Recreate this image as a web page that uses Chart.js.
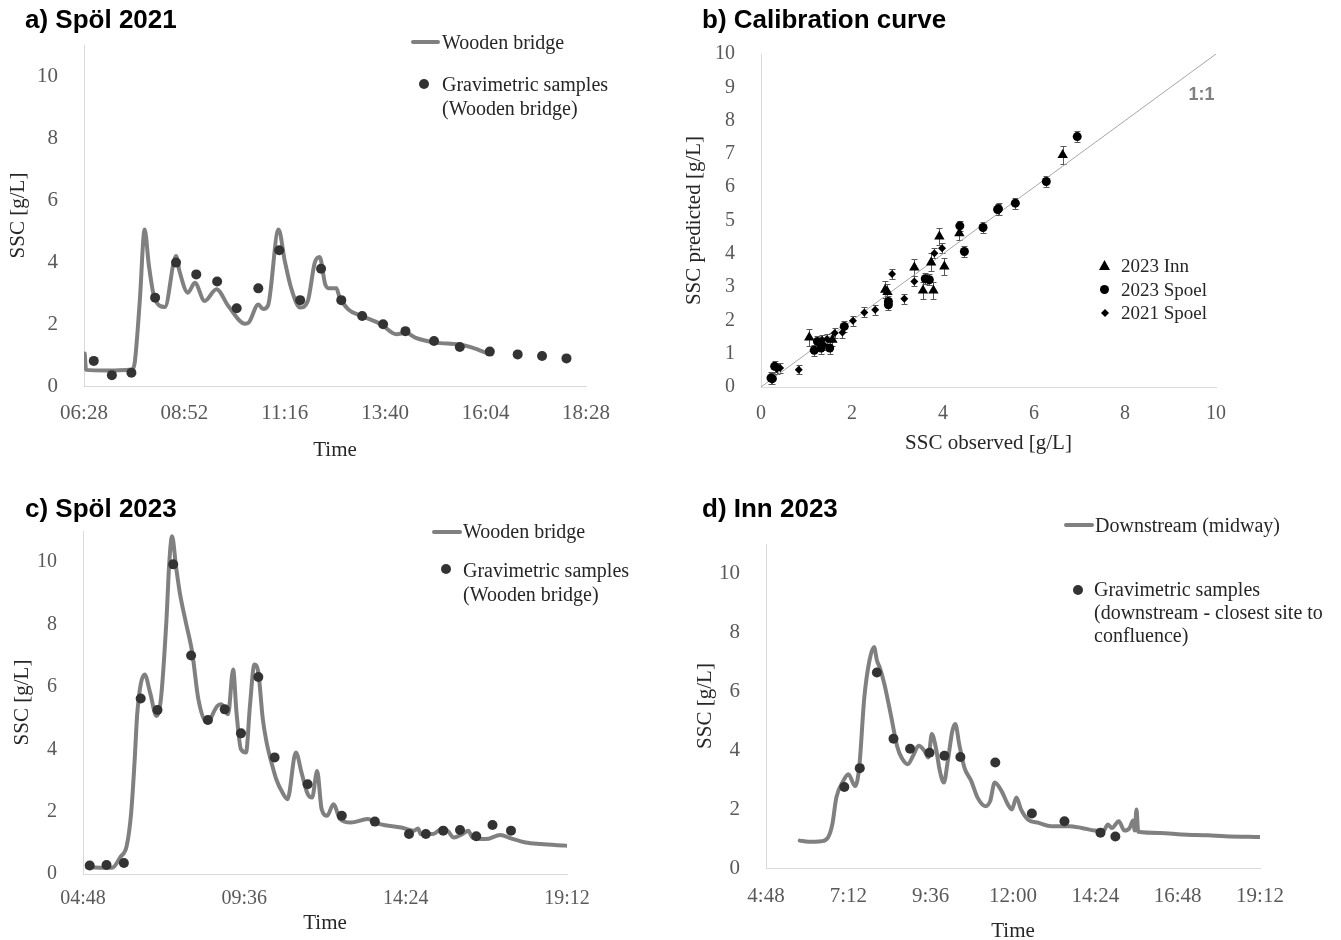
<!DOCTYPE html>
<html>
<head>
<meta charset="utf-8">
<script src="https://cdn.jsdelivr.net/npm/chart.js@4.4.1/dist/chart.umd.min.js"></script>
<style>
  body { margin: 0; background: #fff; width: 1341px; height: 940px; position: relative; overflow: hidden; font-family: 'Liberation Serif', 'Times New Roman', serif; }
  .box { position: absolute; }
  .ttl { position: absolute; font: bold 26px/26px 'Liberation Sans', Arial, sans-serif; color: #000; white-space: nowrap; }
  .lg { position: absolute; font-size: 20px; line-height: 24px; color: #262626; white-space: nowrap; }
  .ln { position: absolute; height: 4px; background: #808080; border-radius: 2px; }
  .dot { position: absolute; width: 10px; height: 10px; border-radius: 50%; background: #333; }
  .mk { position: absolute; background: #000; }
</style>
</head>
<body>

<canvas id="chA" class="box" style="left:0;top:0" width="660" height="480"></canvas>
<canvas id="chB" class="box" style="left:660px;top:0" width="681" height="480"></canvas>
<canvas id="chC" class="box" style="left:0;top:500px" width="660" height="440"></canvas>
<canvas id="chD" class="box" style="left:660px;top:500px" width="681" height="450"></canvas>

<div class="ttl" style="left:25px;top:6px">a) Spöl 2021</div>
<div class="ttl" style="left:702px;top:6px">b) Calibration curve</div>
<div class="ttl" style="left:25px;top:495px">c) Spöl 2023</div>
<div class="ttl" style="left:702px;top:495px">d) Inn 2023</div>

<!-- legend a -->
<div class="ln" style="left:411px;top:40px;width:29px"></div>
<div class="lg" style="left:442px;top:30px">Wooden bridge</div>
<div class="dot" style="left:419px;top:79px"></div>
<div class="lg" style="left:442px;top:72px">Gravimetric samples<br>(Wooden bridge)</div>

<!-- legend b -->
<div class="mk" style="left:1099px;top:260px;width:11px;height:10px;clip-path:polygon(50% 0,100% 100%,0 100%)"></div>
<div class="lg" style="left:1121px;top:254px;font-size:19px">2023 Inn</div>
<div class="mk" style="left:1100px;top:285px;width:9px;height:9px;border-radius:50%"></div>
<div class="lg" style="left:1121px;top:278px;font-size:19px">2023 Spoel</div>
<div class="mk" style="left:1101px;top:309px;width:8px;height:8px;clip-path:polygon(50% 0,100% 50%,50% 100%,0 50%)"></div>
<div class="lg" style="left:1121px;top:301px;font-size:19px">2021 Spoel</div>

<!-- legend c -->
<div class="ln" style="left:432px;top:530px;width:30px"></div>
<div class="lg" style="left:463px;top:519px">Wooden bridge</div>
<div class="dot" style="left:441px;top:564px"></div>
<div class="lg" style="left:463px;top:558px">Gravimetric samples<br>(Wooden bridge)</div>

<!-- legend d -->
<div class="ln" style="left:1064px;top:523px;width:30px"></div>
<div class="lg" style="left:1095px;top:513px">Downstream (midway)</div>
<div class="dot" style="left:1073px;top:585px"></div>
<div class="lg" style="left:1094px;top:578px;line-height:23px">Gravimetric samples<br>(downstream - closest site to<br>confluence)</div>

<script>
// a) Spöl 2021
const aTicksX = ['06:28', '08:52', '11:16', '13:40', '16:04', '18:28'];
const aLineT = ['06:29','06:31','07:00','07:30','07:38','07:41','07:48','07:55','08:01','08:09','08:24','08:40','08:45','08:57','09:07','09:21','09:38','09:55','10:19','10:24','10:38','10:45','10:52','11:07','11:16','11:25','11:38','11:49','11:59','12:06','12:14','12:20','12:30','12:34','12:47','13:06','13:34','13:56','14:10','14:23','14:52','15:25','15:45','16:08'];
const aLineV = [1.05,0.52,0.5,0.52,0.55,0.8,2.74,5.05,3.9,2.85,2.55,4.19,3.7,3.01,3.33,2.74,3.12,2.58,2.01,2.04,2.63,2.48,2.6,5.05,4.03,3.17,2.53,2.74,3.98,4.16,3.28,3.15,3.15,2.9,2.47,2.26,1.99,1.67,1.72,1.56,1.40,1.34,1.24,1.04];
const aSampT = ['06:42','07:08','07:36','08:10','08:40','09:09','09:39','10:07','10:38','11:08','11:38','12:08','12:37','13:07','13:37','14:09','14:50','15:27','16:10','16:50','17:25','18:00'];
const aSampV = [0.81,0.35,0.43,2.85,3.98,3.6,3.37,2.51,3.15,4.38,2.77,3.78,2.77,2.26,1.99,1.77,1.45,1.26,1.11,1.02,0.97,0.89];

// c) Spöl 2023
const cTicksX = ['04:48', '09:36', '14:24', '19:12'];
const cLineT = ['04:55','05:40','05:55','06:06','06:14','06:20','06:25','06:38','06:48','06:59','07:07','07:17','07:22','07:27','07:34','07:41','07:52','08:03','08:14','08:29','08:48','08:55','09:07','09:16','09:22','09:30','09:39','09:46','09:54','10:01','10:09','10:16','10:26','10:33','10:44','10:53','11:08','11:18','11:29','11:37','11:46','11:54','12:04','12:15','12:27','12:46','13:16','13:38','14:16','14:39','14:46','14:51','15:13','15:28','15:39','15:50','16:05','16:16','16:23','16:47','17:13','17:32','17:58','18:25','19:10'];
const cLineV = [0.22,0.2,0.55,0.9,1.97,3.58,5.18,6.4,5.8,5.07,5.6,8.16,9.98,10.83,9.87,9.0,8.04,7.1,5.6,4.86,5.39,5.44,5.12,6.56,5.18,4.0,3.9,5.39,6.72,6.46,4.96,4.2,3.47,3.04,2.61,2.4,3.9,3.26,2.57,2.45,3.3,2.08,1.87,2.24,1.76,1.65,1.76,1.6,1.49,1.39,1.46,1.28,1.28,1.44,1.38,1.17,1.28,1.39,1.17,1.12,1.25,1.14,1.01,0.96,0.91];
const cSampT = ['05:00','05:30','06:01','06:31','07:01','07:29','08:01','08:31','09:01','09:30','10:01','10:30','11:29','12:30','13:29','14:30','15:00','15:31','16:01','16:30','16:59','17:32'];
const cSampV = [0.27,0.29,0.35,5.63,5.26,9.93,7.01,4.94,5.28,4.51,6.32,3.74,2.88,1.87,1.68,1.28,1.28,1.39,1.41,1.21,1.57,1.39];

// d) Inn 2023
const dTicksX = ['4:48', '7:12', '9:36', '12:00', '14:24', '16:48', '19:12'];
const dLineT = ['05:47','06:02','06:25','06:36','06:44','06:51','07:03','07:12','07:24','07:31','07:40','07:49','07:57','08:02','08:07','08:15','08:26','08:38','08:45','08:56','09:05','09:15','09:25','09:32','09:38','09:45','09:52','09:59','10:06','10:14','10:19','10:26','10:35','10:47','10:58','11:12','11:20','11:28','11:40','11:51','11:58','12:06','12:14','12:26','12:45','13:07','13:38','14:00','14:23','14:38','14:46','14:53','15:05','15:15','15:24','15:30','15:33','15:36','15:39','16:17','16:55','17:41','18:11','19:12'];
const dLineV = [0.93,0.89,0.91,1.02,1.48,2.39,2.95,3.18,2.78,3.41,5.8,7.05,7.5,7.05,6.8,6.25,5.23,4.09,3.75,3.52,3.8,4.15,3.98,3.75,4.55,4.09,3.3,2.9,3.64,4.66,4.89,4.2,3.41,2.95,2.39,2.1,2.27,2.9,2.61,2.16,1.99,2.39,1.99,1.65,1.53,1.42,1.42,1.36,1.27,1.25,1.48,1.36,1.59,1.27,1.36,1.61,1.27,1.99,1.23,1.19,1.14,1.11,1.08,1.05];
const dSampT = ['07:05','07:32','08:02','08:31','09:00','09:34','10:00','10:28','11:29','12:33','13:30','14:33','14:59'];
const dSampV = [2.75,3.39,6.64,4.39,4.05,3.91,3.81,3.77,3.58,1.85,1.59,1.20,1.07];

const yTicksSSC = [0, 2, 4, 6, 8, 10];

// b) Calibration curve
const innObs   = [6.63,3.92,4.36,3.74,4.03,3.37,3.56,3.79,2.73,2.78,1.06,1.57];
const innPred  = [6.97,4.52,4.62,3.74,3.62,3.59,2.90,2.90,2.92,2.85,1.49,1.42];
const innErr   = [0.26,0.25,0.2,0.27,0.25,0.25,0.25,0.25,0.25,0.25,0.25,0.2];
const sp23Obs  = [6.95,6.27,5.59,5.22,5.20,4.88,4.47,4.37,3.61,3.70,2.80,2.80,1.17,1.32,1.51,0.22,0.25,0.30,1.24,1.83];
const sp23Pred = [7.52,6.17,5.52,5.35,5.33,4.79,4.07,4.84,3.25,3.22,2.47,2.57,1.10,1.17,1.17,0.27,0.25,0.62,1.37,1.82];
const sp23Err  = [0.16,0.17,0.16,0.17,0.17,0.16,0.17,0.16,0.16,0.16,0.17,0.16,0.17,0.17,0.17,0.17,0.16,0.16,0.16,0.16];
const sp21Obs  = [3.98,3.81,2.88,3.37,3.15,2.51,2.27,2.02,1.79,1.62,1.45,1.34,0.83,0.42,0.35,1.38];
const sp21Pred = [4.17,4.02,3.39,3.17,2.65,2.32,2.24,1.99,1.64,1.62,1.44,1.42,0.52,0.57,0.54,1.27];
const sp21Err  = [0.15,0.15,0.16,0.15,0.15,0.15,0.15,0.15,0.16,0.15,0.15,0.15,0.14,0.15,0.15,0.15];
const calTicksX = [0, 2, 4, 6, 8, 10];
const calTicksY = [0, 1, 2, 3, 4, 5, 6, 7, 8, 9, 10];
const oneToOne = [0, 10];

Chart.defaults.font.family = "'Liberation Serif', 'Times New Roman', serif";
Chart.defaults.animation = false;

const toMin = s => { const p = s.split(':'); return +p[0] * 60 + +p[1]; };
const pts = (t, v) => t.map((s, i) => ({ x: toMin(s), y: v[i] }));
const hhmm = (m, pad) => {
  const h = Math.floor(m / 60), mm = Math.round(m % 60);
  return (pad && h < 10 ? '0' + h : h) + ':' + (mm < 10 ? '0' + mm : mm);
};

const AXIS = '#d9d9d9', TICK = '#595959', TITLE = '#262626';

function seriesChart(id, o, g) {
  const xt = o.ticks.map(toMin);
  new Chart(document.getElementById(id), {
    type: 'scatter',
    data: {
      datasets: [
        { data: pts(o.sampT, o.sampV), pointRadius: 5, backgroundColor: '#333333', borderWidth: 0 },
        { data: pts(o.lineT, o.lineV), showLine: true, borderColor: '#808080', borderWidth: 4,
          pointRadius: 0, cubicInterpolationMode: 'monotone', borderJoinStyle: 'round', borderCapStyle: 'round' }
      ]
    },
    options: {
      responsive: false,
      events: [],
      layout: { padding: { top: g.top, right: g.right, left: 0, bottom: 0 } },
      plugins: { legend: { display: false }, tooltip: { enabled: false } },
      scales: {
        x: {
          type: 'linear', min: xt[0], max: xt[xt.length - 1],
          grid: { display: false }, border: { color: AXIS, width: 1 },
          ticks: { color: TICK, font: { size: g.tick }, padding: g.xTickPad, maxRotation: 0, autoSkip: false,
                   callback: v => hhmm(v, o.pad) },
          afterBuildTicks: s => { s.ticks = xt.map(v => ({ value: v })); },
          afterFit: s => { s.height = g.xH; },
          title: { display: true, text: 'Time', color: TITLE, font: { size: 21 }, padding: { top: 0, bottom: g.xTitlePad } }
        },
        y: {
          min: 0, max: 11,
          grid: { display: false }, border: { color: AXIS, width: 1 },
          ticks: { color: TICK, font: { size: g.tick }, padding: g.yTickPad },
          afterBuildTicks: s => { s.ticks = yTicksSSC.map(v => ({ value: v })); },
          afterFit: s => { s.width = g.yW; },
          title: { display: true, text: 'SSC [g/L]', color: TITLE, font: { size: 21 }, padding: { top: g.yTitlePad, bottom: 0 } }
        }
      }
    }
  });
}

seriesChart('chA', { ticks: aTicksX, pad: true, lineT: aLineT, lineV: aLineV, sampT: aSampT, sampV: aSampV },
  { top: 45, right: 74, yW: 84, xH: 94, xTickPad: 7, xTitlePad: 17, yTitlePad: 6, yTickPad: 18, tick: 21 });
seriesChart('chC', { ticks: cTicksX, pad: true, lineT: cLineT, lineV: cLineV, sampT: cSampT, sampV: cSampV },
  { top: 31, right: 93, yW: 83, xH: 66, xTickPad: 5, xTitlePad: 4, yTitlePad: 10, yTickPad: 18, tick: 20 });
seriesChart('chD', { ticks: dTicksX, pad: false, lineT: dLineT, lineV: dLineV, sampT: dSampT, sampV: dSampV },
  { top: 44, right: 81, yW: 106, xH: 82, xTickPad: 8, xTitlePad: 6, yTitlePad: 33, yTickPad: 18, tick: 21 });

// vertical error bars and the 1:1 label, drawn through the chart scales
const errorBars = {
  id: 'errorBars',
  beforeDatasetsDraw(chart) {
    const ctx = chart.ctx, xs = chart.scales.x, ys = chart.scales.y;
    ctx.save();
    ctx.strokeStyle = '#595959';
    ctx.lineWidth = 1;
    chart.data.datasets.forEach(ds => {
      if (!ds.errors) return;
      ds.data.forEach((p, i) => {
        const x = Math.round(xs.getPixelForValue(p.x)) + 0.5;
        const y1 = Math.round(ys.getPixelForValue(p.y - ds.errors[i])) + 0.5;
        const y2 = Math.round(ys.getPixelForValue(p.y + ds.errors[i])) + 0.5;
        ctx.beginPath();
        ctx.moveTo(x, y1); ctx.lineTo(x, y2);
        ctx.moveTo(x - 3, y1); ctx.lineTo(x + 3, y1);
        ctx.moveTo(x - 3, y2); ctx.lineTo(x + 3, y2);
        ctx.stroke();
      });
    });
    ctx.restore();
  },
  afterDraw(chart) {
    const ctx = chart.ctx;
    ctx.save();
    ctx.fillStyle = '#808080';
    ctx.font = "bold 18px 'Liberation Sans', Arial, sans-serif";
    ctx.textAlign = 'center';
    ctx.textBaseline = 'middle';
    ctx.fillText('1:1', chart.scales.x.getPixelForValue(9.68), chart.scales.y.getPixelForValue(8.77));
    ctx.restore();
  }
};

const xy = (a, b) => a.map((v, i) => ({ x: v, y: b[i] }));

new Chart(document.getElementById('chB'), {
  type: 'scatter',
  data: {
    datasets: [
      { label: '2023 Inn', data: xy(innObs, innPred), errors: innErr, pointStyle: 'triangle', pointRadius: 6,
        backgroundColor: '#000', borderColor: '#000', borderWidth: 0 },
      { label: '2023 Spoel', data: xy(sp23Obs, sp23Pred), errors: sp23Err, pointStyle: 'circle', pointRadius: 4.5,
        backgroundColor: '#000', borderColor: '#000', borderWidth: 0 },
      { label: '2021 Spoel', data: xy(sp21Obs, sp21Pred), errors: sp21Err, pointStyle: 'rectRot', pointRadius: 4,
        backgroundColor: '#000', borderColor: '#000', borderWidth: 0 },
      { label: '1:1', data: xy(oneToOne, oneToOne), showLine: true, pointRadius: 0, borderColor: '#a6a6a6', borderWidth: 1 }
    ]
  },
  options: {
    responsive: false,
    events: [],
    layout: { padding: { top: 54, right: 125, left: 0, bottom: 0 } },
    plugins: { legend: { display: false }, tooltip: { enabled: false } },
    scales: {
      x: {
        type: 'linear', min: 0, max: 10,
        grid: { display: false }, border: { color: AXIS, width: 1 },
        ticks: { color: TICK, font: { size: 20 }, padding: 7, maxRotation: 0 },
        afterBuildTicks: s => { s.ticks = calTicksX.map(v => ({ value: v })); },
        afterFit: s => { s.height = 93; },
        title: { display: true, text: 'SSC observed [g/L]', color: TITLE, font: { size: 21 }, padding: { top: 0, bottom: 24 } }
      },
      y: {
        min: 0, max: 10,
        grid: { display: false }, border: { color: AXIS, width: 1 },
        ticks: { color: TICK, font: { size: 20 }, padding: 18 },
        afterBuildTicks: s => { s.ticks = calTicksY.map(v => ({ value: v })); },
        afterFit: s => { s.width = 101; },
        title: { display: true, text: 'SSC predicted [g/L]', color: TITLE, font: { size: 21 }, padding: { top: 22, bottom: 0 } }
      }
    }
  },
  plugins: [errorBars]
});
</script>
</body>
</html>
